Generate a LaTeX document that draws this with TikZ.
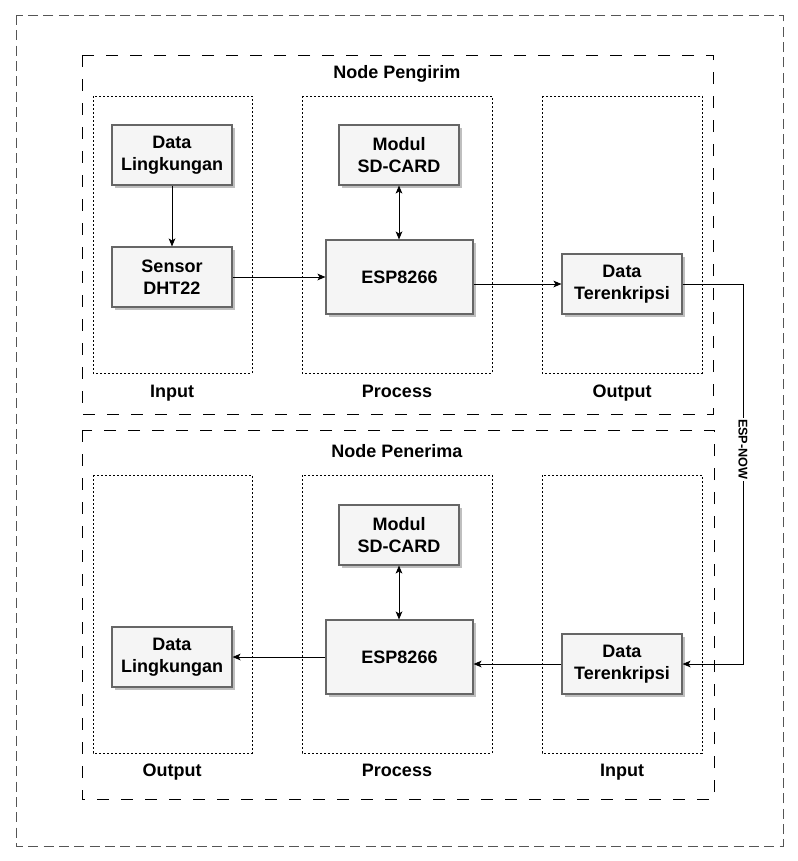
\documentclass[tikz,border=0pt]{standalone}
\usepackage{fontspec}
\setmainfont{Liberation Sans}
\usetikzlibrary{arrows.meta,shadows}
\definecolor{boxfill}{HTML}{F5F5F5}
\definecolor{boxline}{HTML}{666666}
\definecolor{outerline}{HTML}{555555}
\tikzset{
  blk/.style={draw=boxline, fill=boxfill, line width=0.8pt, inner sep=0pt, align=center,
    font=\fontsize{13.5}{16.2}\selectfont\bfseries,
    drop shadow={shadow xshift=2.2pt, shadow yshift=-2.2pt, opacity=0.25, fill=black}},
  grp/.style={draw=black, line width=0.75pt, dash pattern=on 9pt off 9pt},
  col/.style={draw=black, line width=0.75pt, dash pattern=on 1.5pt off 1.5pt},
  ttl/.style={font=\fontsize{13.5}{16.2}\selectfont\bfseries, inner sep=0pt, text height=9.8pt, text depth=2.9pt},
  conn/.style={draw=black, line width=0.75pt, -{Stealth[length=6pt,width=5pt,inset=1.5pt]}},
  bconn/.style={draw=black, line width=0.75pt, {Stealth[length=6pt,width=5pt,inset=1.5pt]}-{Stealth[length=6pt,width=5pt,inset=1.5pt]}},
}
\begin{document}
\begin{tikzpicture}[x=0.75pt,y=-0.75pt]
\useasboundingbox (0,0) rectangle (798,861);
% outer
\draw[outerline, line width=0.75pt, dash pattern=on 7.5pt off 4pt] (16,15) rectangle (783,846);
% groups
\draw[grp] (82,55) rectangle (713,414);
\draw[grp] (82,430) rectangle (714,799);
\node[ttl] (t1) at (397,74) {Node Pengirim};
\node[ttl] (t2) at (397,453) {Node Penerima};
% columns top
\draw[col] (93,96) rectangle (252,373);
\draw[col] (302,96) rectangle (492,373);
\draw[col] (542,96) rectangle (702,373);
\node[ttl] (c1) at (172,393) {Input};
\node[ttl] (c2) at (397,393) {Process};
\node[ttl] (c3) at (622,393) {Output};
% columns bottom
\draw[col] (93,475) rectangle (252,753);
\draw[col] (302,475) rectangle (492,753);
\draw[col] (542,475) rectangle (702,753);
\node[ttl] (c4) at (172,772) {Output};
\node[ttl] (c5) at (397,772) {Process};
\node[ttl] (c6) at (622,772) {Input};
% boxes top
\node[blk, minimum width=90pt, minimum height=45pt] (dlA) at (172,155) {Data\\Lingkungan};
\node[blk, minimum width=90pt, minimum height=45pt] (dht) at (172,277) {Sensor\\DHT22};
\node[blk, minimum width=90pt, minimum height=45pt] (sdA) at (399,155) {Modul\\SD-CARD};
\node[blk, minimum width=110.25pt, minimum height=55.5pt] (espA) at (399.5,277) {ESP8266};
\node[blk, minimum width=90pt, minimum height=45pt] (dtA) at (622,284) {Data\\Terenkripsi};
% boxes bottom
\node[blk, minimum width=90pt, minimum height=45pt] (sdB) at (399,535) {Modul\\SD-CARD};
\node[blk, minimum width=110.25pt, minimum height=55.5pt] (espB) at (399.5,657) {ESP8266};
\node[blk, minimum width=90pt, minimum height=45pt] (dlB) at (172,657) {Data\\Lingkungan};
\node[blk, minimum width=90pt, minimum height=45pt] (dtB) at (622,664) {Data\\Terenkripsi};
% connectors top
\draw[conn] (dlA) -- (dht);
\draw[conn] (dht) -- (espA);
\draw[bconn] (sdA) -- (sdA |- espA.north);
\draw[conn] (espA.east |- dtA.west) -- (dtA.west);
% ESP-NOW
\coordinate (r1) at (743,284);
\coordinate (r2) at (743,664);
\draw[conn] (dtA.east) -- (r1) -- node[pos=0.435, fill=white, inner sep=1pt, rotate=-90, font=\fontsize{9.5}{11}\selectfont\bfseries] (enow) {ESP-NOW} (r2) -- (dtB.east);
% connectors bottom
\draw[bconn] (sdB) -- (sdB |- espB.north);
\draw[conn] (dtB.west) -- (espB.east |- dtB.west);
\draw[conn] (espB) -- (dlB);
\end{tikzpicture}
\end{document}
